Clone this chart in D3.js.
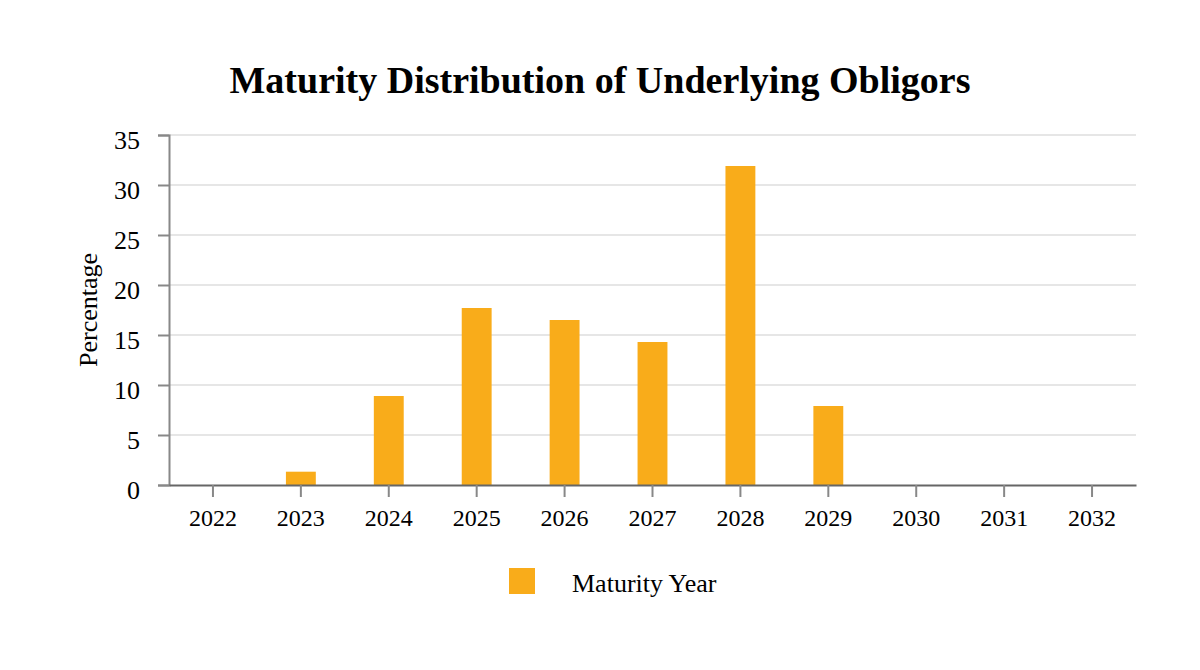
<!DOCTYPE html>
<html><head><meta charset="utf-8">
<script src="https://cdn.jsdelivr.net/npm/d3@7"></script>
<style>body{margin:0;background:#fff;} text{font-family:"Liberation Serif","Times New Roman",serif;}</style>
</head><body>
<svg id="c" width="1200" height="670"></svg>
<script>
const years = ["2022","2023","2024","2025","2026","2027","2028","2029","2030","2031","2032"];
const values = [0, 1.33, 8.9, 17.7, 16.5, 14.3, 31.9, 7.9, 0, 0, 0];
const yTicks = [0,5,10,15,20,25,30,35];
const seriesName = "Maturity Year";
const title = "Maturity Distribution of Underlying Obligors";

const svg = d3.select("#c");
const m = {l:169, r:1136, t:135, b:485};
const x = d3.scaleBand().domain(years).range([m.l, m.r]).paddingInner(0.66).paddingOuter(0.33);
const y = d3.scaleLinear().domain([0,35]).range([m.b, m.t]);

svg.append("rect").attr("width",1200).attr("height",670).attr("fill","#fff");

// grid
svg.append("g").selectAll("line").data(yTicks.filter(d=>d>0)).join("line")
  .attr("x1", m.l).attr("x2", m.r).attr("y1", d=>y(d)).attr("y2", d=>y(d))
  .attr("stroke","#e6e6e6").attr("stroke-width",2);

// bars
svg.append("g").selectAll("rect").data(values).join("rect")
  .attr("x",(d,i)=>x(years[i])).attr("width",x.bandwidth())
  .attr("y",d=>y(d)).attr("height",d=>y(0)-y(d)).attr("fill","#F9AC1A");

// y axis
const ya = svg.append("g").attr("transform",`translate(${m.l},0)`)
  .call(d3.axisLeft(y).tickValues(yTicks).tickSize(11).tickPadding(18));
ya.select(".domain").attr("stroke","#888").attr("stroke-width",2);
ya.selectAll(".tick line").attr("stroke","#888").attr("stroke-width",2);
ya.selectAll(".tick text").attr("font-size",26).attr("fill","#000").attr("dy","0.5em").attr("font-family","Liberation Serif");

// x axis
const xa = svg.append("g").attr("transform",`translate(0,${m.b})`)
  .call(d3.axisBottom(x).tickSize(12).tickPadding(12).tickSizeOuter(0));
xa.select(".domain").attr("stroke","#666").attr("stroke-width",2);
xa.selectAll(".tick line").attr("stroke","#888").attr("stroke-width",2);
xa.selectAll(".tick text").attr("font-size",24).attr("fill","#000").attr("font-family","Liberation Serif");

// title
svg.append("text").attr("x",600).attr("y",93).attr("text-anchor","middle")
  .attr("font-size",38).attr("font-weight","bold").text(title);

// y label
svg.append("text").attr("transform","translate(97,310) rotate(-90)").attr("text-anchor","middle")
  .attr("font-size",26).text("Percentage");

// legend
svg.append("rect").attr("x",509).attr("y",568).attr("width",26).attr("height",26).attr("fill","#F9AC1A");
svg.append("text").attr("x",572).attr("y",592).attr("font-size",26).text(seriesName);
</script>
</body></html>
